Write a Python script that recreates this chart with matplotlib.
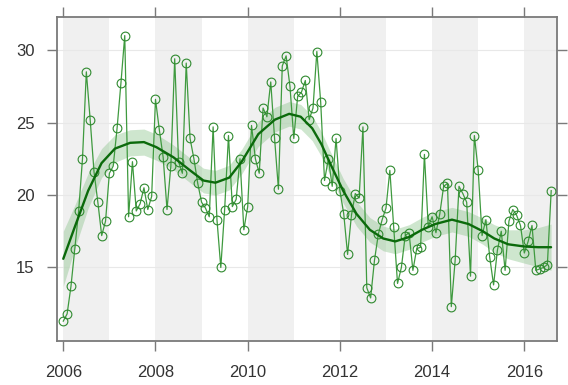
import matplotlib
matplotlib.use("Agg")
import matplotlib.pyplot as plt
import numpy as np

# monthly series, Jan 2006 .. Aug 2016
values = [
    11.3, 11.8, 13.7, 16.3, 18.9, 22.5, 28.5, 25.2, 21.6, 19.5, 17.2, 18.2,   # 2006
    21.5, 22.0, 24.6, 27.7, 31.0, 18.5, 22.3, 18.9, 19.4, 20.5, 19.0, 19.9,   # 2007
    26.6, 24.5, 22.6, 19.0, 22.0, 29.4, 22.3, 21.5, 29.1, 23.9, 22.5, 20.8,   # 2008
    19.5, 19.1, 18.5, 24.7, 18.3, 15.0, 19.0, 24.1, 19.2, 19.7, 22.5, 17.6,   # 2009
    19.2, 24.8, 22.5, 21.5, 26.0, 25.4, 27.8, 23.9, 20.4, 28.9, 29.6, 27.5,   # 2010
    23.9, 26.8, 27.1, 27.9, 25.2, 26.0, 29.9, 26.4, 21.0, 22.5, 20.6, 23.9,   # 2011
    20.3, 18.7, 15.9, 18.6, 20.1, 19.8, 24.7, 13.6, 12.9, 15.5, 17.3, 18.3,   # 2012
    19.1, 21.7, 17.8, 13.9, 15.0, 17.2, 17.4, 14.8, 16.3, 16.4, 22.8, 17.8,   # 2013
    18.5, 17.4, 18.7, 20.6, 20.8, 12.3, 15.5, 20.6, 20.1, 19.5, 14.4, 24.1,   # 2014
    21.7, 17.2, 18.3, 15.7, 13.8, 16.2, 17.5, 14.8, 18.2, 19.0, 18.6, 17.9,   # 2015
    16.0, 16.8, 17.9, 14.8, 14.9, 15.0, 15.2, 20.3,                           # 2016
]
dates = 2006 + np.arange(len(values)) / 12.0

# smooth trend and its confidence half-width
trend_t = [2006.0, 2006.25, 2006.54, 2006.83, 2007.12, 2007.45, 2007.75, 2008.02,
           2008.39, 2008.75, 2009.04, 2009.3, 2009.6, 2009.87, 2010.23, 2010.59,
           2010.9, 2011.15, 2011.4, 2011.6, 2011.8, 2012.07, 2012.36, 2012.65,
           2012.94, 2013.2, 2013.5, 2013.78, 2014.07, 2014.43, 2014.79, 2015.1,
           2015.35, 2015.65, 2016.0, 2016.3, 2016.58]
trend_y = [15.6, 17.8, 20.3, 22.2, 23.2, 23.6, 23.65, 23.3,
           22.6, 21.7, 21.0, 20.85, 21.2, 22.3, 24.2, 25.2,
           25.6, 25.4, 24.6, 23.5, 22.1, 20.3, 18.7, 17.6,
           17.0, 16.8, 17.1, 17.6, 18.0, 18.3, 18.0, 17.5,
           17.0, 16.6, 16.45, 16.4, 16.4]
trend_se = [1.9, 1.5, 1.2, 1.0, 0.95, 0.9, 0.9, 0.9,
            0.85, 0.85, 0.85, 0.85, 0.85, 0.85, 0.85, 0.85,
            0.85, 0.85, 0.85, 0.85, 0.85, 0.85, 0.85, 0.85,
            0.85, 0.85, 0.85, 0.85, 0.85, 0.85, 0.85, 0.9,
            0.95, 1.0, 1.15, 1.35, 1.6]

shade_years = [2006, 2008, 2010, 2012, 2014, 2016]
xticks = [2006, 2008, 2010, 2012, 2014, 2016]
yticks = [15, 20, 25, 30]

plt.rcParams['font.family'] = ['Liberation Sans', 'DejaVu Sans']

fig = plt.figure(figsize=(5.68, 3.85), dpi=100)
ax = fig.add_axes([0.0998, 0.1143, 0.8814, 0.8423])
xmin, xmax = 2005.857, 2016.716
ax.set_xlim(xmin, xmax)
ax.set_ylim(9.93, 32.3)

for y0 in shade_years:
    ax.axvspan(y0, min(y0 + 1, xmax), color='#f0f0f0', lw=0, zorder=0)
for yv in yticks:
    ax.axhline(yv, color='#e8e8e8', lw=0.8, zorder=0.5)

tt = np.array(trend_t)
ty = np.array(trend_y)
ts = np.array(trend_se)
ax.fill_between(tt, ty - ts, ty + ts, color='#8cc48c', alpha=0.42, lw=0, zorder=1)

ax.plot(dates, values, color='#3f9a3f', lw=0.9, zorder=2)
ax.plot(dates, values, ls='none', marker='o', ms=6.3, mfc='none',
        mec='#2f8a2f', mew=0.8, zorder=3)
ax.plot(tt, ty, color='#0b6a0b', lw=1.7, zorder=4,
        solid_joinstyle='round', solid_capstyle='round')

ax.set_xticks(xticks)
ax.set_yticks(yticks)
ax.tick_params(axis='both', which='both', direction='out', length=7, width=1.0,
               color='#7a7a7a', labelcolor='#333333', labelsize=12,
               top=True, right=True, labeltop=False, labelright=False)
ax.tick_params(axis='x', pad=10)
ax.tick_params(axis='y', pad=9)
for sp in ax.spines.values():
    sp.set_color('#7a7a7a')
    sp.set_linewidth(1.3)

fig.savefig('out.png', dpi=100)
